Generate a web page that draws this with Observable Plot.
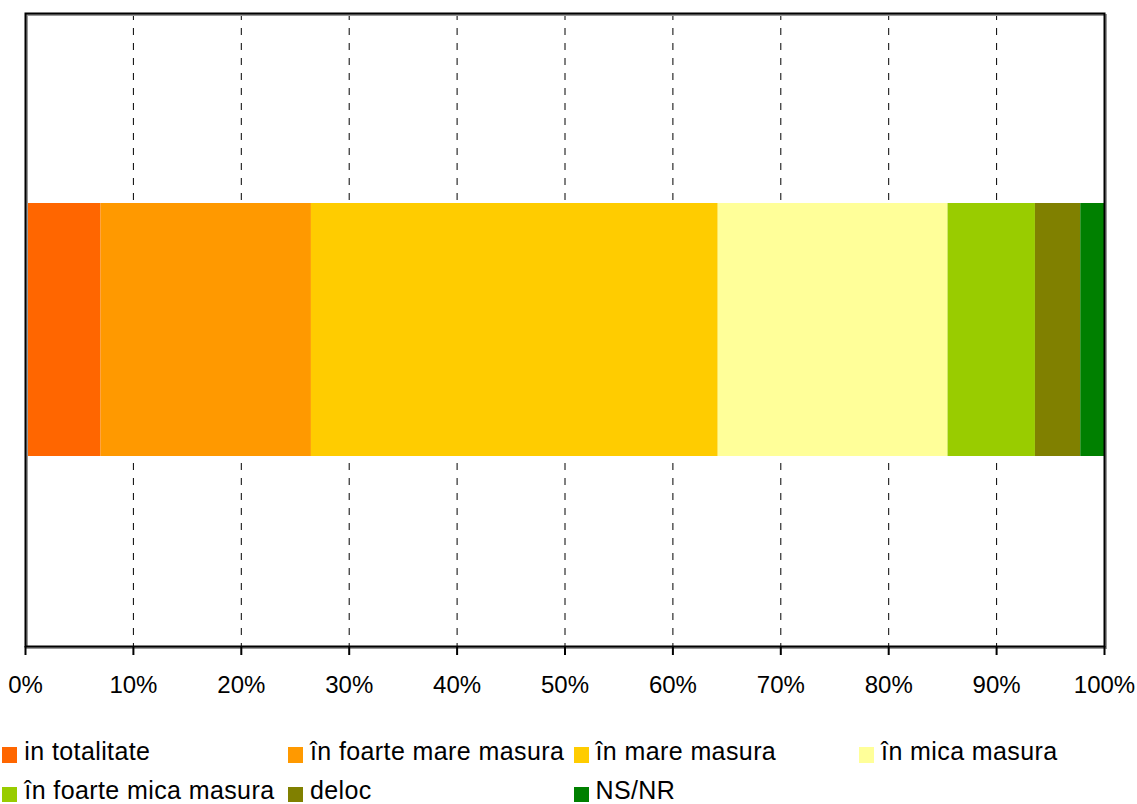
<!DOCTYPE html>
<html>
<head>
<meta charset="utf-8">
<script src="https://cdn.jsdelivr.net/npm/d3@7"></script>
<script src="https://cdn.jsdelivr.net/npm/@observablehq/plot@0.6"></script>
<style>
  html, body { margin: 0; padding: 0; background: #fff; }
  body { width: 1137px; height: 804px; position: relative; overflow: hidden; font-family: "Liberation Sans", Arial, Helvetica, sans-serif; }
  #chart { position: absolute; left: 0; top: 0; }
  .leg { position: absolute; font-size: 25px; line-height: 19px; letter-spacing: 0.4px; color: #000; white-space: nowrap; }
  .sw { position: absolute; left: 0; top: 5.5px; width: 15px; height: 15.5px; }
  .lt { position: absolute; left: 22px; top: 0; }
</style>
</head>
<body>
<div id="chart"></div>
<div id="legend"></div>
<script>
const categories = ["in totalitate", "în foarte mare masura", "în mare masura", "în mica masura", "în foarte mica masura", "deloc", "NS/NR"];
const values = [7.0, 19.5, 37.7, 21.3, 8.1, 4.2, 2.2];
const colors = ["#FF6600", "#FF9900", "#FFCC00", "#FFFF99", "#99CC00", "#808000", "#008000"];
const tickValues = [0, 10, 20, 30, 40, 50, 60, 70, 80, 90, 100];
const gridValues = [10, 20, 30, 40, 50, 60, 70, 80, 90];

const data = categories.map((c, i) => ({category: c, value: values[i], row: "all"}));

const plot = Plot.plot({
  width: 1137,
  height: 710,
  marginLeft: 25,
  marginRight: 33,
  marginTop: 13,
  marginBottom: 64,
  style: {fontFamily: "'Liberation Sans', Arial, sans-serif", fontSize: "24px", color: "#000", background: "#fff"},
  x: {domain: [0, 100], ticks: tickValues},
  y: {domain: ["all"], axis: null, padding: 0.4286},
  color: {domain: categories, range: colors},
  marks: [
    Plot.ruleX(gridValues, {stroke: "#000", strokeWidth: 1, strokeDasharray: "7,8"}),
    Plot.barX(data, Plot.stackX({x: "value", y: "row", fill: "category", order: null})),
    Plot.frame({stroke: "#999", strokeWidth: 2, dx: 1.5, dy: 1.5}),
    Plot.frame({stroke: "#000", strokeWidth: 2}),
    Plot.axisX({ticks: tickValues, tickFormat: d => d + "%", tickSize: 9, tickPadding: 20, fontSize: 24, strokeWidth: 2, stroke: "#000", label: null})
  ]
});
document.getElementById("chart").appendChild(plot);

const legend = document.getElementById("legend");
categories.forEach((c, i) => {
  const col = i % 4, row = Math.floor(i / 4);
  const item = document.createElement("div");
  item.className = "leg";
  item.style.left = (2.3 + col * 285.6) + "px";
  item.style.top = (741.8 + row * 39.5) + "px";
  const sw = document.createElement("div");
  sw.className = "sw";
  sw.style.background = colors[i];
  const t = document.createElement("div");
  t.className = "lt";
  t.textContent = c;
  item.appendChild(sw);
  item.appendChild(t);
  legend.appendChild(item);
});
</script>
</body>
</html>
